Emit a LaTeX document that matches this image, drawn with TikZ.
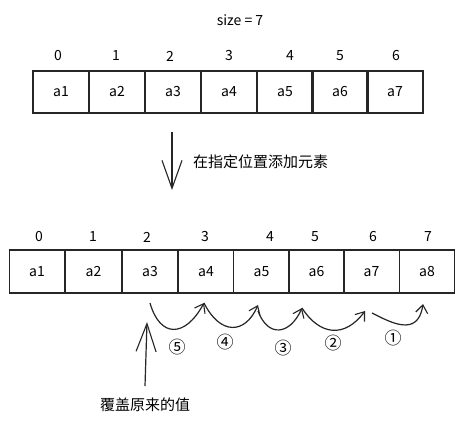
\documentclass[tikz,border=0pt]{standalone}
\usepackage{fontspec}
\setmainfont{Noto Sans CJK SC}
\usetikzlibrary{arrows.meta}
\begin{document}
\begin{tikzpicture}[x=1pt,y=-1pt,
  cell/.style={draw=black!85,line width=1.3pt,minimum width=56pt,minimum height=42pt,inner sep=0pt,font=\fontsize{14}{16}\selectfont},
  idx/.style={font=\fontsize{14}{16}\selectfont,inner sep=0pt},
  cjk/.style={font=\fontsize{15}{17}\selectfont,inner sep=0pt},
  num/.style={font=\fontsize{17}{19}\selectfont,inner sep=0pt},
  arc/.style={draw=black!85,line width=1.2pt,-{Straight Barb[length=8pt,width=12pt,line width=1.1pt]}},
  big/.style={draw=black!85,line width=1.2pt,-{Straight Barb[length=28pt,width=20pt,line width=1.1pt]}}]
\useasboundingbox (0,0) rectangle (463,424);
\fill[white] (0,0) rectangle (463,424);
% title
\node[idx] (size) at (240,20) {size = 7};
% top row
\foreach \i/\x/\lx/\t in {0/61/58/a1,1/117/116/a2,2/173/170/a3,3/229/229/a4,4/285/290/a5,5/340/340/a6,6/395/396/a7}{
  \node[cell] (t\i) at (\x,92) {\t};
  \node[idx] (ti\i) at (\lx,56) {\i};
}
% down arrow
\coordinate (d1) at (172,132);
\coordinate (d2) at (172,190);
\draw[big] (d1) -- (d2);
\node[cjk,anchor=west] (add) at (193,162) {在指定位置添加元素};
% bottom row
\foreach \i/\x/\lx/\t in {0/37/39/a1,1/93.5/93/a2,2/150/147/a3,3/206/205/a4,4/261.5/270/a5,5/316.5/315/a6,6/371.5/373/a7,7/427/428/a8}{
  \node[cell,minimum width=55.5pt,minimum height=43pt] (b\i) at (\x,271.5) {\t};
  \node[idx] (bi\i) at (\lx,237) {\i};
}
% shift arcs
\coordinate (p5s) at (150,303); \coordinate (p5e) at (204,303);
\coordinate (p4e) at (258,305);
\coordinate (p3s) at (258,311); \coordinate (p3e) at (302,308);
\coordinate (p2e) at (365,311);
\coordinate (p1s) at (372,313); \coordinate (p1e) at (423,304);
\draw[arc] (p5s) .. controls (160,338) and (185,338) .. (p5e);
\draw[arc] (p5e) .. controls (220,335) and (245,335) .. (p4e);
\draw[arc] (p3s) .. controls (268,338) and (290,335) .. (p3e);
\draw[arc] (p3e) .. controls (320,336) and (345,338) .. (p2e);
\draw[arc] (p1s) .. controls (390,322) and (418,338) .. (p1e);
\node[num] (c5) at (177,347) {⑤};
\node[num] (c4) at (225,342) {④};
\node[num] (c3) at (283,348) {③};
\node[num] (c2) at (333,343) {②};
\node[num] (c1) at (393,338) {①};
% up arrow
\coordinate (u1) at (145,386);
\coordinate (u2) at (147,322);
\draw[big] (u1) -- (u2);
\node[cjk] (cover) at (145,405) {覆盖原来的值};
\end{tikzpicture}
\end{document}
